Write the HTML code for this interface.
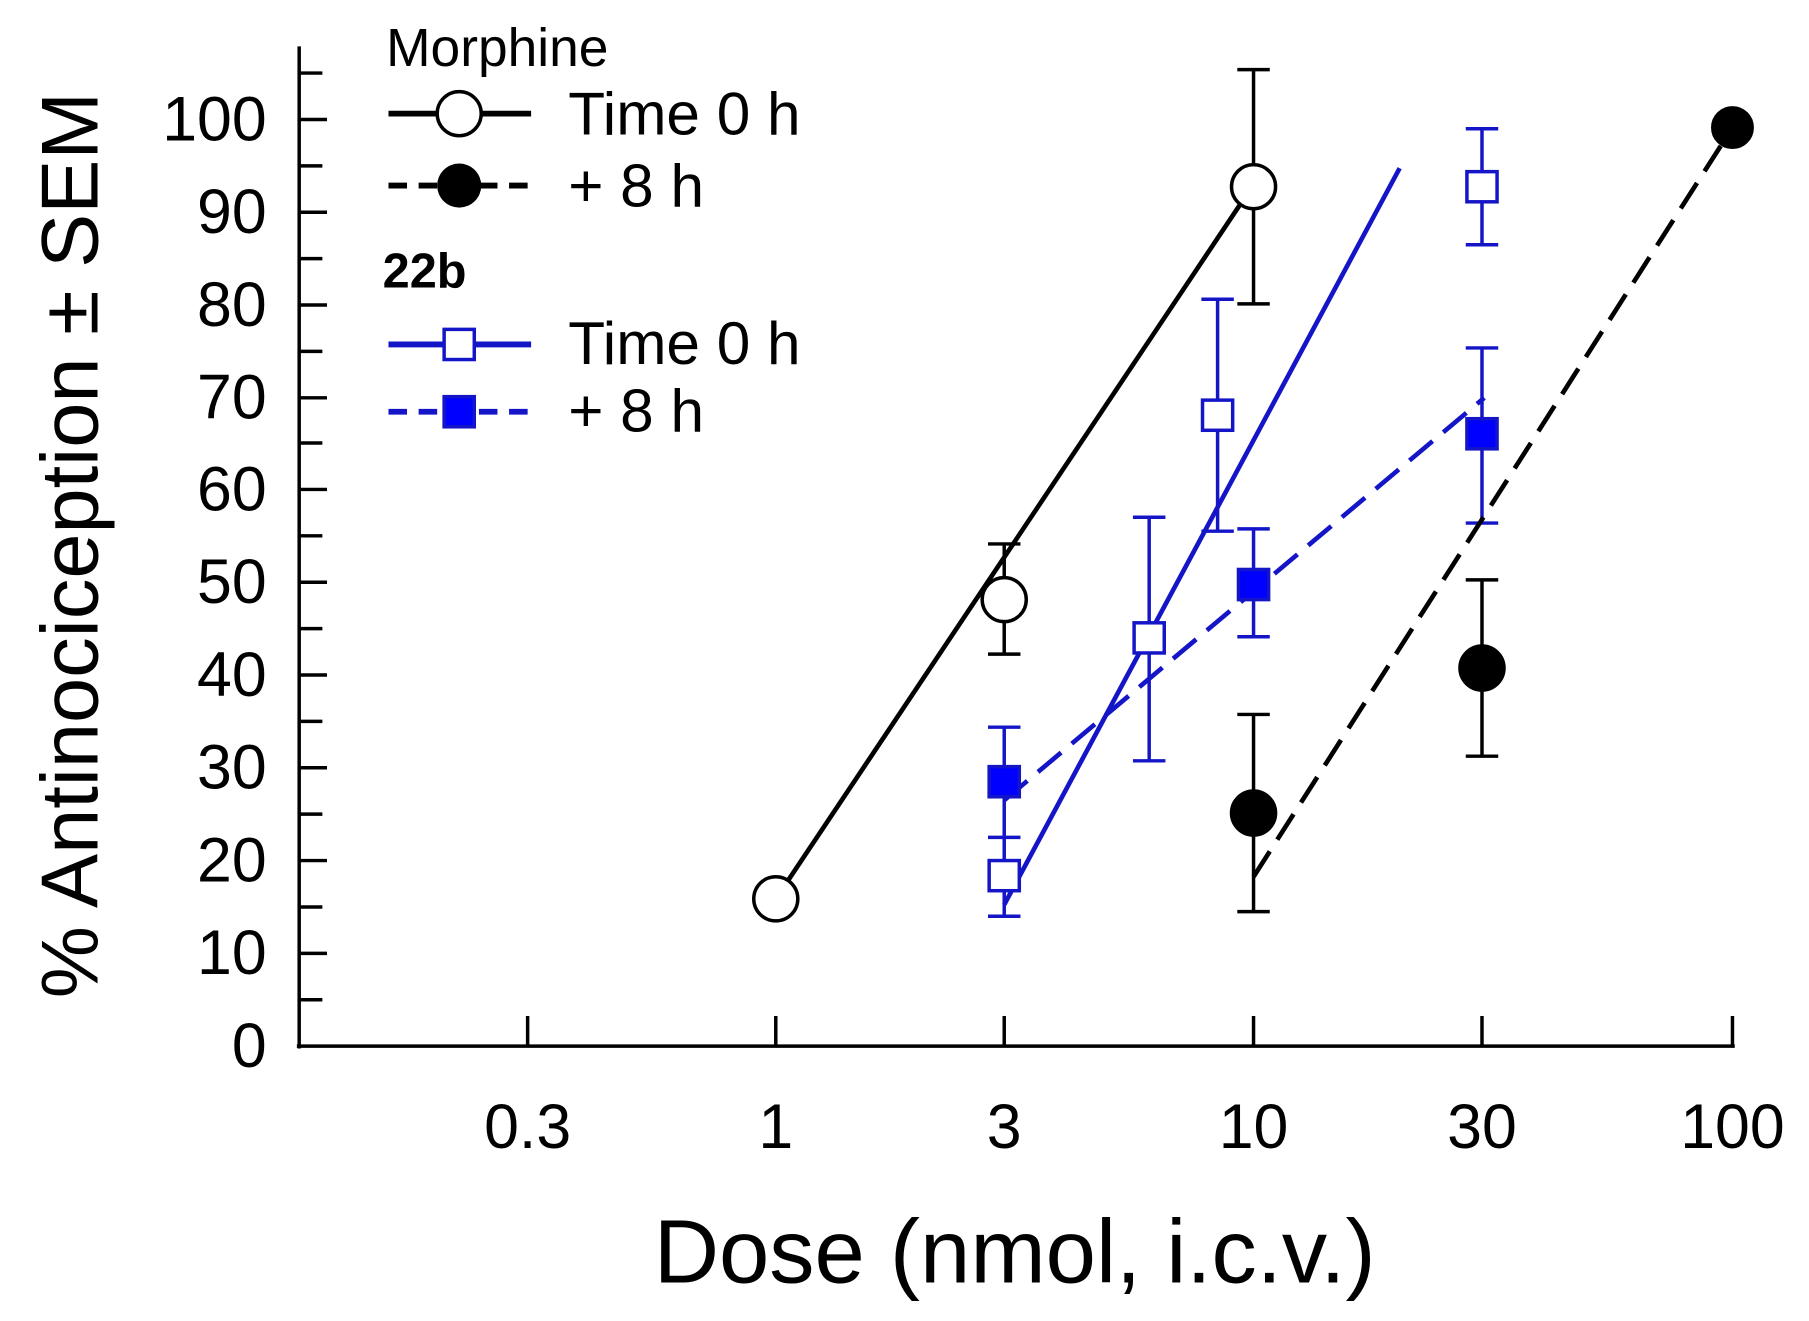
<!DOCTYPE html>
<html><head><style>html,body{margin:0;padding:0;background:#fff}svg{display:block}</style></head>
<body>
<svg width="1809" height="1321" viewBox="0 0 1560 1139" preserveAspectRatio="none" xmlns="http://www.w3.org/2000/svg" font-family="'Liberation Sans', sans-serif">
<rect width="1560" height="1139" fill="#fff"/>
<g stroke="#000" stroke-width="3" fill="none">
<line x1="258" y1="40" x2="258" y2="904"/>
<line x1="256" y1="902" x2="1496" y2="902"/>
<g>
<line x1="258" y1="63" x2="278" y2="63"/><line x1="258" y1="103" x2="282" y2="103"/>
<line x1="258" y1="143" x2="278" y2="143"/><line x1="258" y1="183" x2="282" y2="183"/>
<line x1="258" y1="223" x2="278" y2="223"/><line x1="258" y1="263" x2="282" y2="263"/>
<line x1="258" y1="303" x2="278" y2="303"/><line x1="258" y1="343" x2="282" y2="343"/>
<line x1="258" y1="382" x2="278" y2="382"/><line x1="258" y1="422" x2="282" y2="422"/>
<line x1="258" y1="462" x2="278" y2="462"/><line x1="258" y1="502" x2="282" y2="502"/>
<line x1="258" y1="542" x2="278" y2="542"/><line x1="258" y1="582" x2="282" y2="582"/>
<line x1="258" y1="622" x2="278" y2="622"/><line x1="258" y1="662" x2="282" y2="662"/>
<line x1="258" y1="702" x2="278" y2="702"/><line x1="258" y1="742" x2="282" y2="742"/>
<line x1="258" y1="782" x2="278" y2="782"/><line x1="258" y1="822" x2="282" y2="822"/>
<line x1="258" y1="862" x2="278" y2="862"/>
</g>
<g>
<line x1="455" y1="876" x2="455" y2="902"/><line x1="669" y1="876" x2="669" y2="902"/>
<line x1="866" y1="876" x2="866" y2="902"/><line x1="1081" y1="876" x2="1081" y2="902"/>
<line x1="1278" y1="876" x2="1278" y2="902"/><line x1="1494" y1="876" x2="1494" y2="902"/>
</g>
</g>
<g font-size="54" text-anchor="end" fill="#000">
<text x="230" y="121">100</text><text x="230" y="201">90</text><text x="230" y="281">80</text>
<text x="230" y="361">70</text><text x="230" y="440">60</text><text x="230" y="520">50</text>
<text x="230" y="600">40</text><text x="230" y="680">30</text><text x="230" y="760">20</text>
<text x="230" y="840">10</text><text x="230" y="920">0</text>
</g>
<g font-size="54" text-anchor="middle" fill="#000">
<text x="455" y="990">0.3</text><text x="669" y="990">1</text><text x="866" y="990">3</text>
<text x="1081" y="990">10</text><text x="1278" y="990">30</text><text x="1494" y="990">100</text>
</g>
<text x="875" y="1106" font-size="78" text-anchor="middle">Dose (nmol, i.c.v.)</text>
<text transform="translate(84,470) rotate(-90)" font-size="70" text-anchor="middle">% Antinociception ± SEM</text>

<g stroke="#000" stroke-width="3">
<line x1="866" y1="469" x2="866" y2="564"/><line x1="852" y1="469" x2="880" y2="469"/><line x1="852" y1="564" x2="880" y2="564"/>
<line x1="1081" y1="60" x2="1081" y2="262"/><line x1="1067" y1="60" x2="1095" y2="60"/><line x1="1067" y1="262" x2="1095" y2="262"/>
<line x1="1081" y1="616" x2="1081" y2="786"/><line x1="1067" y1="616" x2="1095" y2="616"/><line x1="1067" y1="786" x2="1095" y2="786"/>
<line x1="1278" y1="500" x2="1278" y2="652"/><line x1="1264" y1="500" x2="1292" y2="500"/><line x1="1264" y1="652" x2="1292" y2="652"/>
</g>
<g stroke="#1515c8" stroke-width="3">
<line x1="866" y1="790" x2="866" y2="722"/><line x1="852" y1="790" x2="880" y2="790"/><line x1="852" y1="722" x2="880" y2="722"/>
<line x1="991" y1="656" x2="991" y2="446"/><line x1="977" y1="656" x2="1005" y2="656"/><line x1="977" y1="446" x2="1005" y2="446"/>
<line x1="1050" y1="458" x2="1050" y2="258"/><line x1="1036" y1="458" x2="1064" y2="458"/><line x1="1036" y1="258" x2="1064" y2="258"/>
<line x1="1278" y1="211" x2="1278" y2="111"/><line x1="1264" y1="211" x2="1292" y2="211"/><line x1="1264" y1="111" x2="1292" y2="111"/>
<line x1="866" y1="627" x2="866" y2="722"/><line x1="852" y1="627" x2="880" y2="627"/>
<line x1="1081" y1="549" x2="1081" y2="456"/><line x1="1067" y1="549" x2="1095" y2="549"/><line x1="1067" y1="456" x2="1095" y2="456"/>
<line x1="1278" y1="451" x2="1278" y2="300"/><line x1="1264" y1="451" x2="1292" y2="451"/><line x1="1264" y1="300" x2="1292" y2="300"/>
</g>
<line x1="669" y1="775" x2="1075" y2="168" stroke="#000" stroke-width="4"/>
<line x1="1081" y1="756" x2="1494" y2="110" stroke="#000" stroke-width="4" stroke-dasharray="26,12"/>
<line x1="866" y1="780" x2="1207" y2="145" stroke="#1515c8" stroke-width="4"/>
<line x1="866" y1="690" x2="1280" y2="343" stroke="#1515c8" stroke-width="4" stroke-dasharray="26,12"/>
<g stroke="#000" stroke-width="3">
<circle cx="669" cy="775" r="19" fill="#fff"/>
<circle cx="866" cy="517" r="19" fill="#fff"/>
<circle cx="1081" cy="161" r="19" fill="#fff"/>
<circle cx="1081" cy="701" r="19" fill="#000"/>
<circle cx="1278" cy="576" r="19" fill="#000"/>
<circle cx="1494" cy="110" r="17" fill="#000"/>
</g>
<g stroke="#1515c8" stroke-width="3">
<rect x="853" y="742" width="26" height="26" fill="#fff"/>
<rect x="978" y="537" width="26" height="26" fill="#fff"/>
<rect x="1037" y="345" width="26" height="26" fill="#fff"/>
<rect x="1265" y="148" width="26" height="26" fill="#fff"/>
<rect x="853" y="661" width="26" height="26" fill="#0000ff"/>
<rect x="1068" y="491" width="26" height="26" fill="#0000ff"/>
<rect x="1265" y="361" width="26" height="26" fill="#0000ff"/>
</g>
<text x="333" y="57" font-size="46">Morphine</text>
<line x1="335" y1="98" x2="458" y2="98" stroke="#000" stroke-width="5"/>
<circle cx="396" cy="98" r="19" fill="#fff" stroke="#000" stroke-width="3"/>
<text x="490" y="116" font-size="52">Time 0 h</text>
<line x1="335" y1="160" x2="458" y2="160" stroke="#000" stroke-width="5" stroke-dasharray="16,10"/>
<circle cx="396" cy="160" r="19" fill="#000"/>
<text x="490" y="178" font-size="52">+ 8 h</text>
<text x="330" y="248" font-size="42" font-weight="bold">22b</text>
<line x1="335" y1="297" x2="458" y2="297" stroke="#1515c8" stroke-width="5"/>
<rect x="383" y="284" width="26" height="26" fill="#fff" stroke="#1515c8" stroke-width="3"/>
<text x="490" y="314" font-size="52">Time 0 h</text>
<line x1="335" y1="355" x2="458" y2="355" stroke="#1515c8" stroke-width="5" stroke-dasharray="16,10"/>
<rect x="383" y="342" width="26" height="26" fill="#0000ff" stroke="#1515c8" stroke-width="3"/>
<text x="490" y="372" font-size="52">+ 8 h</text>
</svg>
</body></html>
